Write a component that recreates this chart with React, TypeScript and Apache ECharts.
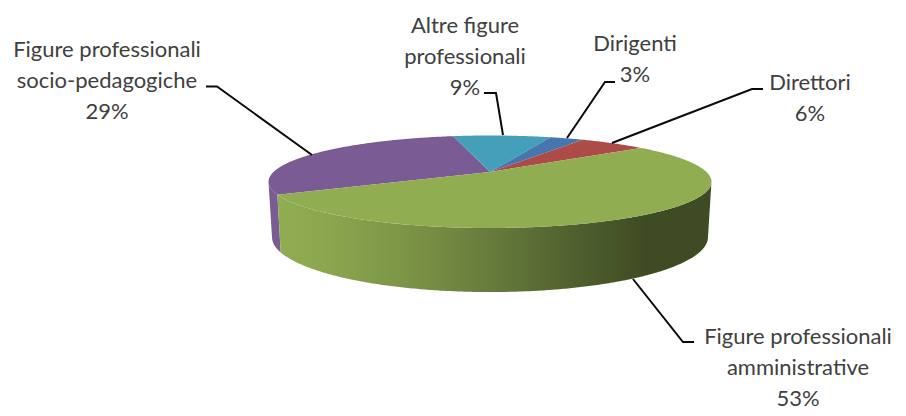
import React, { useEffect, useRef } from "react";
import * as echarts from "echarts";

const categories = [
  "Figure professionali\nsocio-pedagogiche",
  "Altre figure\nprofessionali",
  "Dirigenti",
  "Direttori",
  "Figure professionali\namministrative",
];
const values = [29.4, 8.7, 3.0, 6.0, 52.9];
const topColors = ["#7A5B94", "#44A0BA", "#4577AE", "#AD4B48", "#91AD52"];
const wallColors = ["#7A5B94", "#3A8AA0", "#3B6695", "#94403D", "#91AD52"];

// Projection of the tilted disc
const START_ANGLE = 242.4;
const CX = 490;
const PERSPECTIVE = 0.2108;
const TOP_FACE = { y0: 172, a: 44.2, b: 216.5 };
const BOTTOM_FACE = { y0: 225.4, a: 52.6, b: 213.1 };
const VISIBLE_FROM = 90 + (Math.asin(PERSPECTIVE) * 180) / Math.PI;
const VISIBLE_TO = 360 - VISIBLE_FROM;

const total = values.reduce((s, v) => s + v, 0);

function project(face: { y0: number; a: number; b: number }, deg: number): number[] {
  const t = (deg * Math.PI) / 180;
  const X = Math.sin(t);
  const Y = Math.cos(t);
  const w = 1 + PERSPECTIVE * Y;
  return [CX + (face.b * X) / w, face.y0 - (face.a * Y) / w];
}

function arc(face: { y0: number; a: number; b: number }, from: number, to: number): number[][] {
  const n = Math.max(2, Math.ceil(Math.abs(to - from) * 2));
  const pts: number[][] = [];
  for (let i = 0; i <= n; i++) pts.push(project(face, from + ((to - from) * i) / n));
  return pts;
}

const wallGradient = () =>
  new echarts.graphic.LinearGradient(0, 0, 1, 0, [
    { offset: 0, color: "#91AD52" },
    { offset: 0.1, color: "#8CA74F" },
    { offset: 0.3, color: "#7C9446" },
    { offset: 0.5, color: "#667A3B" },
    { offset: 0.7, color: "#4E5E2D" },
    { offset: 0.85, color: "#3F4B23" },
    { offset: 1, color: "#3F4B23" },
  ]);

const leaders = [
  [[206, 86.5], [217, 86.5], [312, 155]],
  [[484, 93], [496, 93], [503, 135]],
  [[615, 82], [605, 82], [567, 138]],
  [[763, 89], [752, 89], [612, 143]],
  [[633, 279], [683, 342], [694, 342]],
];
const labelAnchors = [
  [107, 79],
  [465, 55],
  [635, 58],
  [810, 97],
  [798, 366],
];

export default function App() {
  const ref = useRef<HTMLDivElement>(null);
  useEffect(() => {
    if (!ref.current) return;
    const chart = echarts.init(ref.current, undefined, { renderer: "svg" });
    chart.setOption({
      animation: false,
      backgroundColor: "#FFFFFF",
      series: [
        {
          type: "custom",
          coordinateSystem: "none",
          silent: true,
          data: values.map((v, i) => ({ name: categories[i], value: [v] })),
          renderItem: (params: any, api: any) => {
            const i = params.dataIndex;
            let before = 0;
            for (let k = 0; k < i; k++) before += values[k];
            const start = START_ANGLE + (before / total) * 360;
            const end = start + (api.value(0) / total) * 360;
            const children: any[] = [];
            // visible outer wall
            const ranges = [
              [Math.max(start, VISIBLE_FROM), Math.min(end, VISIBLE_TO)],
              [Math.max(start - 360, VISIBLE_FROM), Math.min(end - 360, VISIBLE_TO)],
            ];
            ranges.forEach(([a, b]) => {
              if (b <= a) return;
              const pts = arc(TOP_FACE, a, b).concat(arc(BOTTOM_FACE, b, a));
              children.push({
                type: "polygon",
                shape: { points: pts },
                style: { fill: i === 4 ? wallGradient() : wallColors[i], stroke: "none" },
              });
            });
            const top = [[CX, TOP_FACE.y0]].concat(arc(TOP_FACE, start, end));
            children.push({
              type: "polygon",
              shape: { points: top },
              style: { fill: topColors[i], stroke: "none" },
            });
            return { type: "group", children };
          },
        },
      ],
      graphic: [
        ...leaders.map((pts) => ({
          type: "polyline",
          z: 10,
          silent: true,
          shape: { points: pts },
          style: { stroke: "#0A0A0A", lineWidth: 2, fill: "none" },
        })),
        ...categories.map((name, i) => ({
          type: "text",
          z: 11,
          silent: true,
          x: labelAnchors[i][0],
          y: labelAnchors[i][1],
          style: {
            text: `${name}\n${Math.round(values[i])}%`,
            font: "22px Lato",
            fill: "#404040",
            align: "center",
            verticalAlign: "middle",
            lineHeight: 31,
          },
        })),
      ],
    });
    return () => chart.dispose();
  }, []);
  return (
    <div
      ref={ref}
      style={{ position: "absolute", left: 0, top: 0, width: 906, height: 416 }}
    />
  );
}
